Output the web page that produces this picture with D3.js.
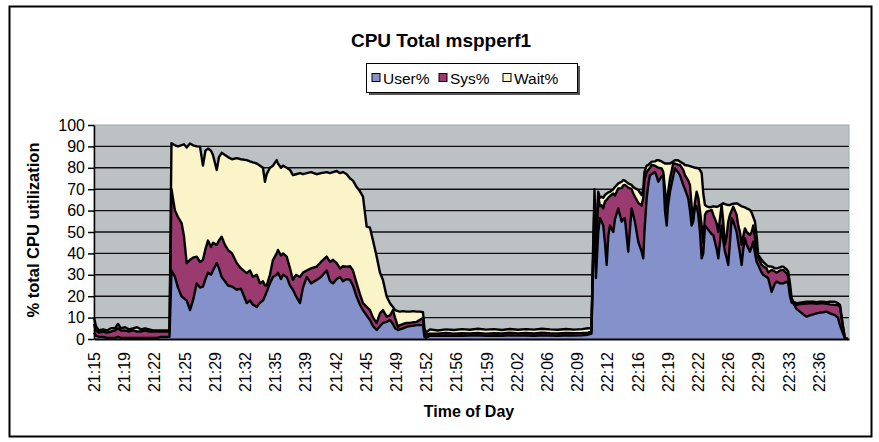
<!DOCTYPE html>
<html>
<head>
<meta charset="utf-8">
<script src="https://cdn.jsdelivr.net/npm/d3@7"></script>
<style>
  body { margin: 0; background: #fff; }
  text { font-family: "Liberation Sans", Arial, sans-serif; fill: #000; }
</style>
</head>
<body>
<svg id="chart" width="879" height="442"></svg>
<script>
// minutes after 21:15 for each sample
let mins = [
  0, 0.22, 0.56, 1.01, 1.45, 1.90, 2.35, 2.68, 3.02, 3.47,
  3.91, 4.36, 4.81, 5.25, 5.70, 6.15, 6.60, 7.04, 7.49, 7.94,
  8.33, 8.44,
  8.66, 9.05, 9.39, 9.80, 10.06, 10.36, 10.73, 11.07, 11.48, 11.85,
  12.18, 12.46, 12.74, 13.08, 13.30, 13.72, 13.97, 14.27, 14.64, 14.98,
  15.43, 15.95, 16.43, 17.07, 17.44, 17.77, 18.19, 18.56, 18.89, 19.11,
  19.30, 19.67, 20.01, 20.42, 20.57, 20.90, 21.13, 21.54, 21.91, 22.24,
  22.58, 23.03, 23.36, 23.78, 24.26, 24.89, 25.37, 26.01, 26.38, 26.72,
  27.13, 27.50, 27.83, 28.25, 28.62, 28.95, 29.36, 29.73, 30.07, 30.48,
  30.85, 31.19, 31.60, 31.97, 32.30, 32.72, 33.09, 33.42, 33.65, 33.98,
  34.20, 34.54, 34.95, 35.32, 35.66, 36.07, 36.44, 36.78, 36.94, 37.11,
  37.56, 38.45, 39.35, 40.24, 41.13, 42.03, 42.92, 43.82, 44.71, 45.61,
  46.50, 47.39, 48.29, 49.18, 50.08, 50.97, 51.87, 52.76, 53.65, 54.55,
  55.22, 55.61,
  55.78, 55.95, 56.11, 56.37, 56.56, 56.75, 56.93, 57.12, 57.31, 57.49,
  57.68, 58.05, 58.24, 58.61, 58.99, 59.17, 59.35, 59.72, 60.10, 60.28,
  60.47, 60.84, 61.22, 61.40, 61.53, 61.78, 61.96, 62.15, 62.34, 62.71,
  62.90, 63.08, 63.46, 63.64, 63.83, 64.02, 64.16, 64.39, 64.75, 64.94,
  65.28, 65.50, 65.87, 66.06, 66.43, 66.62, 66.81, 66.99, 67.18, 67.37,
  67.55, 67.74, 67.93, 68.11, 68.30, 68.49, 68.86, 69.05, 69.23, 69.61,
  69.79, 69.97, 70.16, 70.34, 70.53, 70.72, 70.90, 71.09, 71.28, 71.46,
  71.84, 72.02, 72.21, 72.40, 72.58, 72.77, 72.96, 73.33, 73.52, 73.70,
  73.89, 74.08, 74.25, 74.64, 74.81, 75.19, 75.37, 75.75, 75.93, 76.12,
  76.31, 76.68, 76.87, 77.05, 77.43, 77.61, 77.80, 77.99, 78.17, 78.55,
  78.92, 79.29, 79.66, 80.03, 80.40, 80.78, 81.15, 81.52, 81.90, 82.27,
  82.83, 83.16, 83.39, 83.69, 83.95, 84.28
]

let userPct = [
  3, 1.5, 1, 1, 0.5, 0.5, 0.5, 1, 0.5, 0.5,
  0.5, 0.5, 0.5, 0.5, 0.5, 0.5, 0.5, 0.5, 1, 1,
  1, 1,
  32, 29, 24, 19.8, 19, 18, 13.5, 18, 26, 24,
  24.5, 28, 31, 30, 32, 35.5, 33, 29, 27, 25,
  24.5, 23, 23.5, 16.8, 18, 16, 15, 17, 18, 20,
  22, 26, 29, 30, 31, 28, 30, 29, 25, 23,
  20, 16.8, 24, 29, 26, 27.6, 29, 32, 27, 26,
  28, 29, 27, 28, 27.6, 25, 19.8, 16, 13.5, 11,
  8.9, 6, 4.2, 6, 7.5, 8, 8.9, 7, 5, 4.2,
  4.5, 5, 5.7, 6, 6.2, 6.5, 6.5, 6.5, 1, 0.5,
  1.5, 1.5, 1.6, 1.5, 1.5, 1.6, 1.7, 1.5, 1.6, 1.5,
  1.7, 1.6, 1.6, 1.5, 1.7, 1.6, 1.5, 1.7, 1.6, 1.7,
  2, 2.5,
  34.6, 53, 28.5, 50, 56.5, 55, 53, 45, 34.6, 48,
  53, 50, 56, 61, 54.8, 56, 56.4, 40.8, 61, 58,
  54.8, 45.5, 40.8, 37.7, 50, 65.7, 72, 76.6, 77, 78,
  76, 73.5, 76, 76.6, 60, 53, 62, 68.8, 76, 79.7,
  78, 76.6, 72, 70, 65.7, 60, 53, 55, 62, 62,
  58, 50, 37.7, 40, 53, 52, 50, 49, 48.6, 42,
  37.7, 45, 53, 46, 40.8, 38, 34.6, 45, 56.4, 55,
  50, 45, 40, 34.6, 42, 47, 44, 40.8, 43, 45.5,
  40, 36, 34.6, 31, 30, 29, 28.4, 22, 24, 26,
  26.8, 26, 26, 26, 26.8, 26, 20, 17, 16.7, 14,
  12.8, 11.5, 10.4, 11, 11.5, 12, 12.3, 12.5, 12.8, 12,
  11.2, 10, 6.5, 3, 0.3, 0
]

let sysPct = [
  4, 2.5, 2, 2.5, 2.5, 3, 3.5, 4, 3.5, 3.5,
  3, 3.5, 3, 3, 3.5, 3, 3, 3, 2.5, 2.5,
  2.5, 2.5,
  38, 31, 33, 34.2, 29, 17.5, 23.5, 20, 12.5, 12,
  12.5, 14, 15, 13, 13, 8.5, 13, 18.8, 17, 16.6,
  15.5, 12.5, 9.5, 14, 14, 13, 15, 9, 9, 5,
  3, 4, 8, 10, 10.6, 11, 10, 9.5, 8, 4.6,
  10, 12.2, 7, 3, 7, 6.2, 7, 6.5, 9, 11,
  7.5, 4, 7, 5.8, 6.4, 7, 6.2, 5, 3.3, 4,
  4.6, 4, 3.3, 6, 6, 2.4, 2.1, 6.5, 5, 1.5,
  2, 2, 1.8, 1.5, 1.6, 1.5, 2.5, 3.3, 2, 1.5,
  1, 1, 1.2, 1, 1.2, 1, 1.1, 1, 1.1, 1.1,
  1.2, 1, 1.2, 1.1, 1.2, 1.1, 1.1, 1.1, 1.1, 1.1,
  1, 1,
  1.4, 12, 11.5, 17, 5.5, 7.5, 8, 19.3, 30.4, 18,
  13.8, 18, 11, 9.4, 15.7, 15.8, 15.6, 29.9, 9, 10,
  11.7, 18.1, 21.5, 28.3, 24, 12.3, 7, 3.4, 4.3, 3,
  4.5, 6.5, 3.7, 1.4, 10, 8, 6, 6.2, 6, 2.3,
  3.5, 4.7, 7, 6.6, 8.3, 12, 9, 1.4, 2, 6.8,
  8, 10, 15.3, 5, 5, 7.5, 10, 11.3, 9.4, 12,
  12.3, 11, 9.6, 9, 3.2, 10, 20.2, 13, 3.6, 6.8,
  8, 8, 10, 9.4, 6, 4.7, 6, 7.8, 7, 7.5,
  7, 4.8, 3.4, 3.6, 4, 4, 2.6, 10.3, 8, 5.5,
  4.2, 6, 6.3, 6.3, 3.9, 3, 2, 1.2, 0.3, 2,
  3.5, 5, 6.2, 5.7, 5.2, 4.5, 4.4, 4.2, 3.7, 4.2,
  4.7, 6, 8.6, 3.5, 0, 0
]

let waitPct = [
  3, 2, 1, 1, 1, 1.5, 1, 2, 1, 1.5,
  1, 1, 2, 1, 1, 1, 0.5, 0.5, 0.5, 0.5,
  0.5, 0.5,
  21.5, 30.5, 33, 36.6, 43, 54, 54.4, 52.5, 51.5, 53.9,
  44, 46, 43, 45, 41, 35, 39, 39.2, 42, 43.4,
  44, 49, 51, 52.8, 51, 53.5, 52, 55, 53, 48.5,
  52, 50, 44, 43.6, 40.4, 41, 41, 41.5, 46, 49,
  47, 48.5, 46, 45.5, 45, 43.2, 41.5, 39.5, 41.5, 41,
  43, 44.5, 44, 43.2, 41, 42, 45, 48, 49.7, 37.5,
  38.5, 36, 31, 19, 14.1, 9.4, 5.7, 1.5, 3.5, 7.3,
  6.3, 6, 5.3, 5.3, 5.2, 4.8, 3.8, 2.7, 2, 1,
  2, 1.5, 1.7, 1.7, 1.9, 1.7, 2, 1.9, 1.9, 1.6,
  1.8, 1.7, 1.8, 1.8, 1.9, 1.8, 1.7, 1.9, 1.7, 1.8,
  2, 1.5,
  4, 5, 5, 1.8, 4, 4, 5, 3, 3, 2.5,
  2, 2, 4, 2.3, 3, 2.5, 2, 2, 2, 3,
  4, 6, 5, 4, 4, 3, 2.3, 2, 1.6, 2,
  3, 3.6, 3.3, 4.5, 12, 21, 14, 7, 1, 1.6,
  2, 1.6, 3, 4.7, 7, 8.8, 18.5, 23.9, 16, 11.1,
  13.7, 19, 24.5, 23, 4.6, 2.5, 1.5, 1.5, 4, 7.8,
  12, 6.5, 0.4, 8.4, 19, 14.8, 7.8, 4.6, 3, 1.4,
  5.4, 10, 12.5, 18, 13.8, 9.8, 11, 11.7, 9, 4,
  7.8, 7.2, 1.3, 2.4, 2, 1.5, 3, 1.5, 1.5, 1.5,
  2, 1.5, 1.5, 1.5, 1.8, 2.5, 4, 0.8, 0.5, 0.7,
  0.7, 0.7, 0.8, 0.7, 0.7, 0.7, 0.7, 0.7, 0.7, 1.2,
  1.5, 0.8, 0.8, 0.5, 0, 0
]

let seriesNames = ["User%", "Sys%", "Wait%"]
let seriesColors = ["#8591cb", "#9b3a6e", "#faf4c8"]

let timeLabels = ["21:15", "21:19", "21:22", "21:25", "21:29", "21:32", "21:35",
  "21:39", "21:42", "21:45", "21:49", "21:52", "21:56", "21:59", "22:02",
  "22:06", "22:09", "22:12", "22:16", "22:19", "22:22", "22:26", "22:29",
  "22:33", "22:36"]
let labelStep = 3.375 // minutes between time labels
let yTicks = [0, 10, 20, 30, 40, 50, 60, 70, 80, 90, 100]

let svg = d3.select("#chart")
let width = 879, height = 442
let margin = { top: 125, right: 30, bottom: 103, left: 94 }

let x = d3.scaleLinear()
    .domain([0, 84.4])
    .range([margin.left, width - margin.right])

let y = d3.scaleLinear()
    .domain([0, 100])
    .range([height - margin.bottom, margin.top])

let rows = mins.map(function (t, i) {
  return { t: t, "User%": userPct[i], "Sys%": sysPct[i], "Wait%": waitPct[i] }
})

let stacked = d3.stack().keys(seriesNames)(rows)

// outer chart frame
svg.append("rect")
    .attr("x", 9.5).attr("y", 6.5)
    .attr("width", 862).attr("height", 430)
    .style("fill", "#fff")
    .style("stroke", "#000")
    .style("stroke-width", 2)

// plot area
svg.append("rect")
    .attr("x", x(0)).attr("y", y(100))
    .attr("width", x(84.4) - x(0)).attr("height", y(0) - y(100))
    .style("fill", "#bcc1c3")
    .style("stroke", "#a4a8aa")
    .style("stroke-width", 1)

// gridlines
svg.append("g")
  .selectAll("line")
  .data(yTicks.filter(d => d > 0 && d < 100))
  .enter()
  .append("line")
    .attr("x1", x(0)).attr("x2", x(84.4))
    .attr("y1", d => y(d)).attr("y2", d => y(d))
    .style("stroke", "#111")
    .style("stroke-width", 1.4)

let area = d3.area()
    .x(d => x(d.data.t))
    .y0(d => y(d[0]))
    .y1(d => y(d[1]))

let outline = d3.line()
    .x(d => x(d.data.t))
    .y(d => y(d[1]))

svg.append("g")
  .selectAll("path")
  .data(stacked)
  .enter()
  .append("path")
    .attr("d", area)
    .style("fill", (d, i) => seriesColors[i])

svg.append("g")
  .selectAll("path")
  .data(stacked)
  .enter()
  .append("path")
    .attr("d", outline)
    .style("fill", "none")
    .style("stroke", "#000")
    .style("stroke-width", 2.4)
    .style("stroke-linejoin", "round")

// y axis
let yAxis = svg.append("g")
    .attr("transform", `translate(${margin.left},0)`)
    .call(d3.axisLeft(y).tickValues(yTicks).tickSize(6).tickPadding(3).tickSizeOuter(0))
yAxis.select(".domain").style("stroke", "#000").style("stroke-width", 1.5)
yAxis.selectAll("line").style("stroke", "#000").style("stroke-width", 1.5)
yAxis.selectAll("text")
    .style("font-size", "16px")
    .style("font-family", "'Liberation Sans', Arial, sans-serif")

// x axis with rotated time labels
let xAxis = svg.append("g")
    .attr("transform", `translate(0,${y(0)})`)
    .call(d3.axisBottom(x)
      .tickValues(timeLabels.map((d, i) => i * labelStep))
      .tickFormat((d, i) => timeLabels[i])
      .tickSize(0)
      .tickSizeOuter(0))
xAxis.select(".domain").style("stroke", "#000").style("stroke-width", 1.8)
xAxis.selectAll("text")
    .attr("transform", "rotate(-90)")
    .attr("x", -13)
    .attr("y", 0)
    .attr("dy", "0.35em")
    .style("text-anchor", "end")
    .style("font-size", "16px")
    .style("font-family", "'Liberation Sans', Arial, sans-serif")

// titles
svg.append("text")
    .attr("x", 441).attr("y", 47)
    .attr("text-anchor", "middle")
    .style("font-size", "19px")
    .style("font-weight", "bold")
    .text("CPU Total mspperf1")

svg.append("text")
    .attr("x", 469).attr("y", 417)
    .attr("text-anchor", "middle")
    .style("font-size", "16px")
    .style("font-weight", "bold")
    .text("Time of Day")

svg.append("text")
    .attr("transform", "translate(39,230) rotate(-90)")
    .attr("text-anchor", "middle")
    .style("font-size", "16.5px")
    .style("font-weight", "bold")
    .text("% total CPU utilization")

// legend box with shadow
let legend = svg.append("g")
legend.append("rect")
    .attr("x", 369).attr("y", 66).attr("width", 211).attr("height", 29)
    .style("fill", "#555")
legend.append("rect")
    .attr("x", 366.5).attr("y", 63.5).attr("width", 211).attr("height", 29)
    .style("fill", "#fff")
    .style("stroke", "#000")
    .style("stroke-width", 1)

let legendX = [372, 439, 503]
seriesNames.forEach(function (name, i) {
  legend.append("rect")
      .attr("x", legendX[i]).attr("y", 73.5)
      .attr("width", 8).attr("height", 8)
      .style("fill", seriesColors[i])
      .style("stroke", "#000")
      .style("stroke-width", 1)
  legend.append("text")
      .attr("x", legendX[i] + 11).attr("y", 83.5)
      .style("font-size", "15.5px")
      .text(name)
})
</script>
</body>
</html>
